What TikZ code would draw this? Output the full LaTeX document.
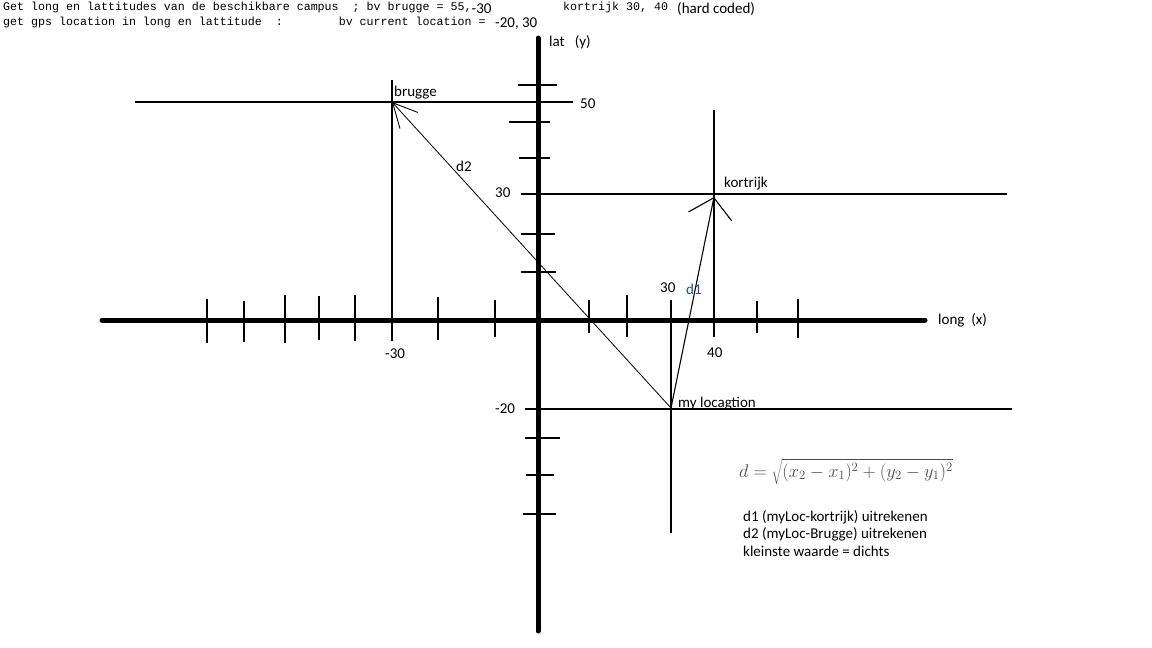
\documentclass[tikz,border=0pt]{standalone}
\usepackage{fontspec}
\usepackage{graphicx}
\setmainfont{Carlito}
\newfontfamily\monofont{Liberation Mono}
\usetikzlibrary{arrows.meta}
\definecolor{dblue}{RGB}{30,80,160}
\definecolor{formulagray}{RGB}{75,75,75}
\begin{document}
\begin{tikzpicture}[x=1pt,y=-1pt,
  axisline/.style={line width=5pt, line cap=round},
  tickline/.style={line width=1.15pt},
  guideline/.style={line width=1.15pt},
  lbl/.style={font=\fontsize{15}{17}\selectfont, inner sep=0pt, anchor=base west},
  mono/.style={font=\monofont\fontsize{11.65}{14}\selectfont, inner sep=0pt, anchor=base west},
  conn/.style={line width=0.8pt}]
\useasboundingbox (0,0) rectangle (1152,648);
\fill[white] (0,0) rectangle (1152,648);

% header text
\node[mono] (h1) at (3,10.5) {Get long en lattitudes van de beschikbare campus~~; bv brugge = 55,};
\node[lbl] (h1b) at (471.5,13.5) {-30};
\node[mono] (h1c) at (563,10.5) {kortrijk 30, 40};
\node[lbl] (h1d) at (677,13) {(hard coded)};
\node[mono] (h2) at (3,25.5) {get gps location in long en lattitude~~:~~~~~~~~bv current location =};
\node[lbl] (h2b) at (495,27.5) {-20, 30};

% guide lines
\draw[guideline] (135,102) -- (573,102);
\draw[guideline] (392,80) -- (392,341);
\draw[guideline] (521,194) -- (1007,194);
\draw[guideline] (714,110) -- (714,337);
\draw[guideline] (525,409) -- (1012,409);
\draw[guideline] (671,300) -- (671,533);

% x ticks
\foreach \x/\a/\b in {207/299/343, 244/301/342, 285/295/343, 319/296/340, 355/295/341,
                      438/297/340, 495/300/337, 589/300/333, 627/295/337, 757/301/333, 798/299/338}
  \draw[tickline] (\x,\a) -- (\x,\b);
% y ticks
\foreach \y/\a/\b in {85/518/557, 122/509/550, 158/519/550, 234/521/555, 272/521/556,
                      438/525/560, 475/526/554, 514/523/556}
  \draw[tickline] (\a,\y) -- (\b,\y);

% axes
\draw[axisline] (102,320) -- (925,320);
\draw[axisline] (538,38) -- (538,631);

% points
\coordinate (brugge) at (392,102);
\coordinate (kortrijk) at (714,197);
\coordinate (myloc) at (671,408);

% connectors
\draw[conn, -{Straight Barb[length=24pt, width=24pt, line width=0.9pt]}] (myloc) -- (brugge);
\draw[line width=1.1pt, -{Straight Barb[length=19pt, width=44pt, line width=1.1pt]}] (myloc) -- (kortrijk);

% labels
\node[lbl] (laty) at (549,46) {lat~~~(y)};
\node[lbl] (l50) at (580,108) {50};
\node[lbl] (lbrugge) at (394,96) {brugge};
\node[lbl] (ld2) at (456,171) {d2};
\node[lbl] (l30y) at (495,197) {30};
\node[lbl] (lkortrijk) at (724,187) {kortrijk};
\node[lbl] (l30x) at (660,292) {30};
\node[lbl, text=dblue] (ld1) at (686,294) {d1};
\node[lbl] (longx) at (938,324) {long~~(x)};
\node[lbl] (lm30) at (385,358) {-30};
\node[lbl] (l40) at (707,357) {40};
\node[lbl] (lm20) at (495,413) {-20};
\node[lbl] (lmyloc) at (678,407) {my locagtion};

% formula and notes
\node[inner sep=0pt, anchor=base west, text=formulagray, font=\fontsize{18.8}{22}\selectfont] (formula) at (739,477)
  {\scalebox{1.06}{$d=\sqrt{(x_2-x_1)^2+(y_2-y_1)^2}$}};
\node[lbl] (n1) at (743,521) {d1 (myLoc-kortrijk) uitrekenen};
\node[lbl] (n2) at (743,538.5) {d2 (myLoc-Brugge) uitrekenen};
\node[lbl] (n3) at (743,556) {kleinste waarde = dichts};
\end{tikzpicture}
\end{document}
